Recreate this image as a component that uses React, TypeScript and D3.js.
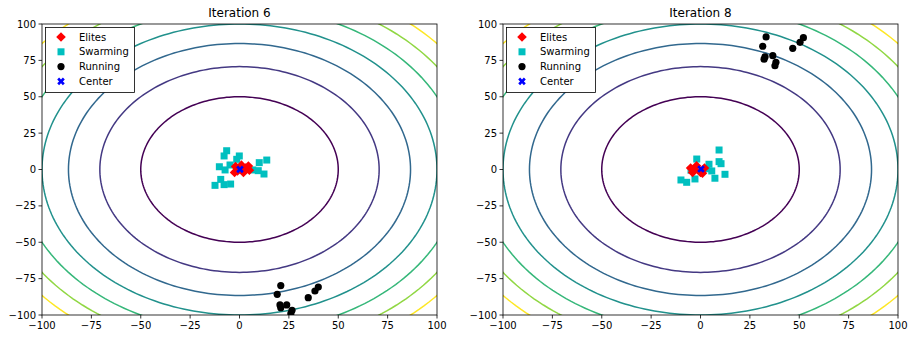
import React from "react";
import * as d3 from "d3";

type Pt = [number, number];

const tickValues = [-100, -75, -50, -25, 0, 25, 50, 75, 100];
const contourLevels = [2500, 5000, 7500, 10000, 12500, 15000, 17500];
const panelTitles = ["Iteration 6", "Iteration 8"];
const legendLabels = ["Elites", "Swarming", "Running", "Center"];

// iteration 6
const elites6: Pt[] = [
  [-2.5, -2], [4.5, 2.4], [-2, 2], [1, 3], [2, -2], [5, -0.5], [-1, -1], [3, 1],
];
const swarming6: Pt[] = [
  [-6.5, 12.9], [-7.8, 9.3], [-0.1, 9.3], [-1.4, 7], [-10.2, 1.9], [-7.3, -0.3],
  [-4.8, 3.1], [10, 4.7], [13.8, 6.5], [6.7, -0.3], [9.5, -0.8], [12.4, -3.1],
  [-9.5, -6.8], [-12.4, -10.9], [-7.8, -10.4], [-4.5, -10], [-1, 1.5],
];
const running6: Pt[] = [
  [20.9, -79.8], [19.1, -85.8], [20.5, -93.1], [20.9, -95], [23.9, -93.1],
  [26.6, -96.8], [26, -99], [34.8, -88.1], [38.2, -83.5], [39.9, -80.8],
];
const center6: Pt = [0.25, 0.1];

// iteration 8
const elites8: Pt[] = [
  [-5, 1], [-4, -2], [-2, 2.5], [0, -2], [2, 1], [1, -2.5], [-3, 0],
];
const swarming8: Pt[] = [
  [9.4, 13.4], [-1.9, 7.2], [4.3, 3.6], [9.4, 5.4], [10.4, 4], [-4.8, -0.5],
  [5.7, -1], [12.4, -3.3], [7.3, -6], [-2.8, -6.5], [-9.9, -7.2], [-7, -8.8],
  [3, 0.5],
];
const running8: Pt[] = [
  [33.2, 91.1], [31.5, 84.7], [32.7, 77.5], [32.2, 75.8], [36.6, 78.2],
  [38.2, 73.7], [37.7, 71.3], [46.7, 83.3], [50.4, 87.4], [52.1, 90.6],
];
const center8: Pt = [0.25, 0.3];

const panels = [
  { title: panelTitles[0], left: 42, elites: elites6, swarming: swarming6, running: running6, center: center6 },
  { title: panelTitles[1], left: 503, elites: elites8, swarming: swarming8, running: running8, center: center8 },
];

const top = 24;
const bottom = 315;
const pw = 395;
const font = "DejaVu Sans, sans-serif";

const contourColor = d3
  .scaleSequential(d3.interpolateViridis)
  .domain([contourLevels[0], contourLevels[contourLevels.length - 1]]);

const diamond = "M0,-4.8L4.8,0L0,4.8L-4.8,0Z";
const square = "M-3.5,-3.5H3.5V3.5H-3.5Z";
const xMark = d3.symbol(d3.symbolCross, 36)() as string;

const Panel = ({ p, idx }: { p: (typeof panels)[number]; idx: number }) => {
  const x = d3.scaleLinear().domain([-100, 100]).range([p.left, p.left + pw]);
  const y = d3.scaleLinear().domain([-100, 100]).range([bottom, top]);
  const angles = d3.range(0, 361, 1.5).map((a) => (a * Math.PI) / 180);
  const line = d3.line<number>();
  const clipId = `clip${idx}`;

  return (
    <g>
      <defs>
        <clipPath id={clipId}>
          <rect x={p.left} y={top} width={pw} height={bottom - top} />
        </clipPath>
      </defs>
      <g clipPath={`url(#${clipId})`}>
        {contourLevels.map((lv) => {
          const r = Math.sqrt(lv);
          const d = line
            .x((a) => x(r * Math.cos(a)))
            .y((a) => y(r * Math.sin(a)))(angles);
          return <path key={lv} d={d ?? ""} fill="none" stroke={contourColor(lv)} strokeWidth={1.5} />;
        })}
        {p.swarming.map((d, i) => (
          <path key={"s" + i} d={square} transform={`translate(${x(d[0])},${y(d[1])})`} fill="#00bfbf" />
        ))}
        {p.elites.map((d, i) => (
          <path key={"e" + i} d={diamond} transform={`translate(${x(d[0])},${y(d[1])})`} fill="#ff0000" />
        ))}
        {p.running.map((d, i) => (
          <circle key={"r" + i} cx={x(d[0])} cy={y(d[1])} r={3.6} fill="#000" />
        ))}
        <path d={xMark} transform={`translate(${x(p.center[0])},${y(p.center[1])}) rotate(45)`} fill="#0000ff" />
      </g>
      <rect x={p.left} y={top} width={pw} height={bottom - top} fill="none" stroke="#000" strokeWidth={0.8} />
      {tickValues.map((t) => (
        <g key={"x" + t}>
          <line x1={x(t)} x2={x(t)} y1={bottom} y2={bottom + 3.5} stroke="#000" strokeWidth={0.8} />
          <text x={x(t)} y={bottom + 7} textAnchor="middle" dominantBaseline="hanging" fontSize={10} fontFamily={font}>
            {t < 0 ? "\u2212" + -t : t}
          </text>
        </g>
      ))}
      {tickValues.map((t) => (
        <g key={"y" + t}>
          <line x1={p.left - 3.5} x2={p.left} y1={y(t)} y2={y(t)} stroke="#000" strokeWidth={0.8} />
          <text x={p.left - 6} y={y(t)} textAnchor="end" dominantBaseline="central" fontSize={10} fontFamily={font}>
            {t < 0 ? "\u2212" + -t : t}
          </text>
        </g>
      ))}
      <text x={p.left + pw / 2} y={top - 7} textAnchor="middle" fontSize={12} fontFamily={font}>
        {p.title}
      </text>
      <g transform={`translate(${p.left + 3},${top + 3})`}>
        <rect x={0.5} y={0.5} width={89} height={65} fill="#fff" stroke="#000" strokeWidth={0.8} />
        {legendLabels.map((lab, i) => {
          const ly = 10 + i * 14.8;
          const mk =
            i === 0 ? <path d={diamond} fill="#ff0000" /> :
            i === 1 ? <path d={square} fill="#00bfbf" /> :
            i === 2 ? <circle r={3.6} fill="#000" /> :
            <path d={xMark} transform="rotate(45)" fill="#0000ff" />;
          return (
            <g key={lab}>
              <g transform={`translate(16,${ly})`}>{mk}</g>
              <text x={34} y={ly} dominantBaseline="central" fontSize={10} fontFamily={font}>
                {lab}
              </text>
            </g>
          );
        })}
      </g>
    </g>
  );
};

export default function App() {
  return (
    <svg width={913} height={340} style={{ position: "absolute", left: 0, top: 0, background: "#fff" }}>
      {panels.map((p, i) => (
        <Panel key={p.title} p={p} idx={i} />
      ))}
    </svg>
  );
}
